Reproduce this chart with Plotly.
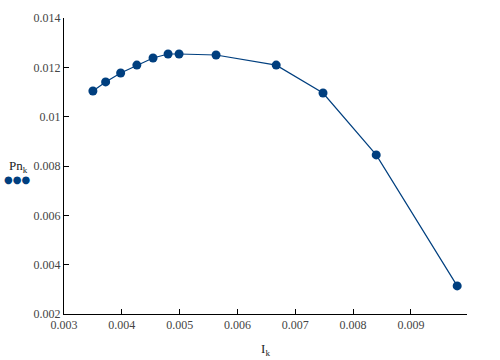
import plotly.graph_objects as go

# Data
I_k = [0.0035, 0.00372, 0.00398, 0.00426, 0.00454, 0.0048, 0.00499, 0.00563, 0.00667, 0.00748, 0.0084, 0.0098]
Pn_k = [0.01104, 0.01141, 0.01177, 0.01209, 0.01238, 0.01254, 0.01254, 0.0125, 0.01209, 0.01096, 0.00845, 0.00314]

x_ticks = [0.003, 0.004, 0.005, 0.006, 0.007, 0.008, 0.009]
x_labels = ["0.003", "0.004", "0.005", "0.006", "0.007", "0.008", "0.009"]
y_ticks = [0.002, 0.004, 0.006, 0.008, 0.01, 0.012, 0.014]
y_labels = ["0.002", "0.004", "0.006", "0.008", "0.01", "0.012", "0.014"]

color = "#003f7f"
font = "Liberation Serif"
tickfont = dict(family=font, size=12, color="#444")

fig = go.Figure()
fig.add_trace(go.Scatter(
    x=I_k, y=Pn_k, mode="lines+markers",
    line=dict(color=color, width=1.2),
    marker=dict(color=color, size=9),
    showlegend=False,
))

fig.update_layout(
    width=500, height=360,
    margin=dict(l=64, r=33, t=18, b=46),
    paper_bgcolor="white", plot_bgcolor="white",
    font=dict(family=font, size=12, color="#444"),
    xaxis=dict(
        range=[0.003, 0.00997], tickvals=x_ticks, ticktext=x_labels, tickfont=tickfont,
        showgrid=False, zeroline=False, showline=True, linecolor="black", linewidth=1,
        ticks="inside", ticklen=5, tickcolor="black", automargin=False,
        title=dict(text="I<sub>k</sub>", font=dict(family=font, size=13, color="#222"), standoff=12),
    ),
    yaxis=dict(
        range=[0.002, 0.014], tickvals=y_ticks, ticktext=y_labels, tickfont=tickfont,
        showgrid=False, zeroline=False, showline=True, linecolor="black", linewidth=1,
        ticks="inside", ticklen=5, tickcolor="black", automargin=False,
    ),
    annotations=[
        dict(text="Pn<sub>k</sub>", xref="paper", yref="paper", x=-0.114, y=0.5, xanchor="center",
             yanchor="middle", showarrow=False, font=dict(family=font, size=13, color="#222")),
        dict(text="●●●", xref="paper", yref="paper", x=-0.116, y=0.455, xanchor="center",
             yanchor="middle", showarrow=False, font=dict(family="DejaVu Sans", size=10, color=color)),
    ],
)

fig.write_html("out.html", config={"displayModeBar": False},
               post_script="document.body.style.margin='0';document.body.style.padding='0';")
